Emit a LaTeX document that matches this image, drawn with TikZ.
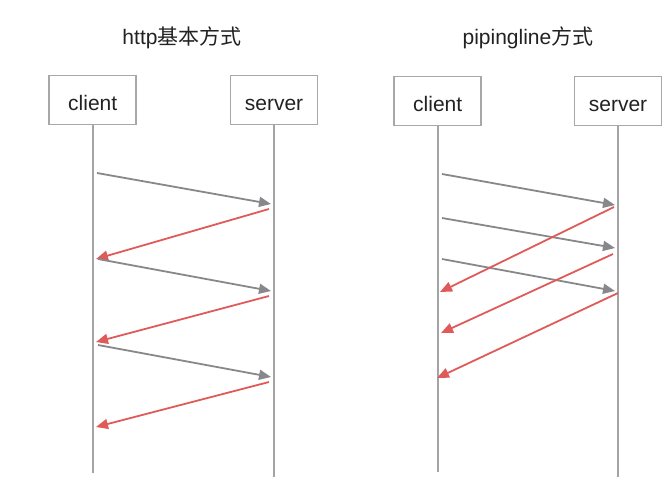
\documentclass[tikz,border=0pt]{standalone}
\usepackage{fontspec}
\setmainfont{Liberation Sans}
\newfontfamily\cjk{Noto Sans CJK SC}
\usetikzlibrary{arrows.meta}
\definecolor{boxgray}{HTML}{A8A8A8}
\definecolor{linegray}{HTML}{A4A4A4}
\definecolor{reqgray}{HTML}{88888C}
\definecolor{resred}{HTML}{E05A5A}
\definecolor{txt}{HTML}{222222}
\tikzset{
  actor/.style={draw=boxgray, line width=1.5pt, minimum width=87pt, minimum height=49pt, inner sep=0pt, text height=20pt, text depth=0pt, font=\fontsize{21}{24}\selectfont, text=txt},
  ttl/.style={font=\fontsize{21}{24}\selectfont, text=txt},
  life/.style={draw=linegray, line width=1.8pt},
  req/.style={draw=reqgray, line width=1.8pt, -{Triangle[length=12pt,width=10pt]}},
  res/.style={draw=resred, line width=1.8pt, -{Triangle[length=12pt,width=10pt]}}
}
\begin{document}
\begin{tikzpicture}[x=1pt,y=-1pt]
\useasboundingbox (0,0) rectangle (668,498);
% titles
\node[ttl] (t1) at (182,38) {http{\cjk 基本方式}};
\node[ttl] (t2) at (528,38) {pipingline{\cjk 方式}};
% left panel
\node[actor] (c1) at (92.7,100) {client};
\node[actor] (s1) at (274,100) {server};
\coordinate (c1e) at (92.7,473);
\coordinate (s1e) at (274,477);
\draw[life] (c1.south) -- (c1e);
\draw[life] (s1.south) -- (s1e);
\coordinate (a1s) at (97,173);  \coordinate (a1e) at (271,204);
\coordinate (b1s) at (269,209); \coordinate (b1e) at (96,259);
\coordinate (a2s) at (98,259);  \coordinate (a2e) at (271,291);
\coordinate (b2s) at (269,296); \coordinate (b2e) at (96,342);
\coordinate (a3s) at (98,345);  \coordinate (a3e) at (271,377);
\coordinate (b3s) at (269,382); \coordinate (b3e) at (96,427);
\draw[req] (a1s) -- (a1e);
\draw[res] (b1s) -- (b1e);
\draw[req] (a2s) -- (a2e);
\draw[res] (b2s) -- (b2e);
\draw[req] (a3s) -- (a3e);
\draw[res] (b3s) -- (b3e);
% right panel
\node[actor] (c2) at (437.7,101) {client};
\node[actor] (s2) at (618,101) {server};
\coordinate (c2e) at (437.7,472);
\coordinate (s2e) at (618,477);
\draw[life] (c2.south) -- (c2e);
\draw[life] (s2.south) -- (s2e);
\coordinate (p1s) at (442,174); \coordinate (p1e) at (615,205);
\coordinate (p2s) at (442,218); \coordinate (p2e) at (615,248);
\coordinate (p3s) at (442,259); \coordinate (p3e) at (615,291);
\coordinate (q1s) at (614,207); \coordinate (q1e) at (440,292);
\coordinate (q2s) at (613,254); \coordinate (q2e) at (441,333);
\coordinate (q3s) at (618,293); \coordinate (q3e) at (437,378);
\draw[req] (p1s) -- (p1e);
\draw[req] (p2s) -- (p2e);
\draw[req] (p3s) -- (p3e);
\draw[res] (q1s) -- (q1e);
\draw[res] (q2s) -- (q2e);
\draw[res] (q3s) -- (q3e);
\end{tikzpicture}
\end{document}
